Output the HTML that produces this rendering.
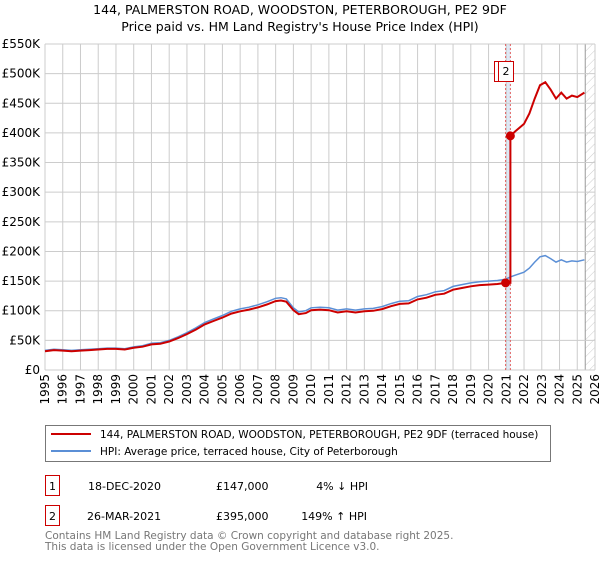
<!DOCTYPE html>
<html><head><meta charset="utf-8"><style>
body{margin:0;background:#fff;font-family:"Liberation Sans","DejaVu Sans",sans-serif;}
svg text{font-family:"DejaVu Sans","Liberation Sans",sans-serif;}
</style></head><body>
<svg id="chart" width="600" height="560" xmlns="http://www.w3.org/2000/svg">
<defs><pattern id="hatch" width="6" height="6" patternUnits="userSpaceOnUse" patternTransform="rotate(45)"><line x1="0" y1="0" x2="0" y2="6" stroke="#ccc" stroke-width="1"/></pattern></defs>
<text x="300" y="14" text-anchor="middle" font-size="12.5">144, PALMERSTON ROAD, WOODSTON, PETERBOROUGH, PE2 9DF</text>
<text x="300" y="31" text-anchor="middle" font-size="12.5">Price paid vs. HM Land Registry's House Price Index (HPI)</text>
<g id="grid"></g><g id="marks"></g>
<rect x="45.5" y="425.5" width="505" height="36" fill="#fff" stroke="#777"/>
<line x1="51" y1="434" x2="91" y2="434" stroke="#cc0000" stroke-width="2"/>
<text x="100" y="438" font-size="10.5">144, PALMERSTON ROAD, WOODSTON, PETERBOROUGH, PE2 9DF (terraced house)</text>
<line x1="51" y1="451" x2="91" y2="451" stroke="#5b8fd6" stroke-width="2"/>
<text x="100" y="455" font-size="10.5">HPI: Average price, terraced house, City of Peterborough</text>
<rect x="45.5" y="475.5" width="14" height="20" fill="#fff" stroke="#cc0000"/>
<text x="52.5" y="490" text-anchor="middle" font-size="11">1</text>
<text x="88" y="490" font-size="11">18-DEC-2020</text>
<text x="216" y="490" font-size="11">£147,000</text>
<text x="368" y="490" text-anchor="end" font-size="11">4% ↓ HPI</text>
<rect x="45.5" y="505.5" width="14" height="20" fill="#fff" stroke="#cc0000"/>
<text x="52.5" y="520" text-anchor="middle" font-size="11">2</text>
<text x="87" y="520" font-size="11">26-MAR-2021</text>
<text x="216" y="520" font-size="11">£395,000</text>
<text x="367" y="520" text-anchor="end" font-size="11">149% ↑ HPI</text>
<text x="45" y="539" font-size="10.5" fill="#777">Contains HM Land Registry data © Crown copyright and database right 2025.</text>
<text x="45" y="550" font-size="10.5" fill="#777">This data is licensed under the Open Government Licence v3.0.</text>
</svg>
<script>
const yTicks=[0,50,100,150,200,250,300,350,400,450,500,550];
const yTickLabels=["£0","£50K","£100K","£150K","£200K","£250K","£300K","£350K","£400K","£450K","£500K","£550K"];
const years=[1995,1996,1997,1998,1999,2000,2001,2002,2003,2004,2005,2006,2007,2008,2009,2010,2011,2012,2013,2014,2015,2016,2017,2018,2019,2020,2021,2022,2023,2024,2025,2026];
const hpiDates=[1995,1995.5,1996,1996.5,1997,1997.5,1998,1998.5,1999,1999.5,2000,2000.5,2001,2001.5,2002,2002.5,2003,2003.5,2004,2004.5,2005,2005.5,2006,2006.5,2007,2007.5,2008,2008.3,2008.6,2009,2009.3,2009.7,2010,2010.5,2011,2011.5,2012,2012.5,2013,2013.5,2014,2014.5,2015,2015.5,2016,2016.5,2017,2017.5,2018,2018.5,2019,2019.5,2020,2020.5,2020.96,2021.23,2021.5,2022,2022.3,2022.6,2022.9,2023.2,2023.5,2023.8,2024.1,2024.4,2024.7,2025,2025.4];
const hpiValues=[33,35,34,33,34,35,36,37,37,36,39,41,45,46,50,56,63,71,80,86,92,99,103,106,110,115,121,122,120,105,98,100,105,106,105,101,103,101,103,104,107,112,116,117,124,127,132,134,141,144,147,149,150,151,153,157,160,165,172,182,191,193,188,182,186,182,184,183,186];
const sales=[{d:2020.96,v:147},{d:2021.23,v:395}];
const X0=45,X1=595,Y0=370,Y1=44;
const xs=d=>X0+(d-1995)*(X1-X0)/31;
const ys=v=>Y0-v*(Y0-Y1)/550;
const NS="http://www.w3.org/2000/svg";
const grid=document.getElementById('grid'),marks=document.getElementById('marks');
function mk(p,tag,at){const e=document.createElementNS(NS,tag);for(const k in at)e.setAttribute(k,at[k]);p.appendChild(e);return e;}
let r=mk(grid,'rect',{x:X0,y:Y1,width:X1-X0,height:Y0-Y1,fill:'#fff'});


let h=mk(grid,'rect',{x:xs(2025.45),y:Y1,width:X1-xs(2025.45),height:Y0-Y1,fill:'url(#hatch)'});


mk(grid,'line',{x1:xs(2025.45),x2:xs(2025.45),y1:Y1,y2:Y0,stroke:'#999','stroke-width':1});
let band=mk(grid,'rect',{x:xs(sales[0].d),y:Y1,width:xs(sales[1].d)-xs(sales[0].d),height:Y0-Y1,fill:'#dde8f5'});


yTicks.forEach((v,i)=>{
 mk(grid,'line',{x1:X0,x2:X1,y1:ys(v),y2:ys(v),stroke:'#ccc','stroke-width':1});
 const t=mk(grid,'text',{x:X0-5,y:ys(v)+4,'text-anchor':'end','font-size':12});
 t.textContent=yTickLabels[i];
 
 
});
years.forEach(y=>{
 mk(grid,'line',{x1:xs(y),x2:xs(y),y1:Y1,y2:Y0,stroke:'#ccc','stroke-width':1});
 const t=mk(grid,'text',{x:0,y:0,'text-anchor':'end','font-size':12,transform:`translate(${xs(y)+4},${Y0+4}) rotate(-90)`});
 t.textContent=y;
 
 
});
sales.forEach(s=>{mk(grid,'line',{x1:xs(s.d),x2:xs(s.d),y1:Y1,y2:Y0,stroke:'#e06060','stroke-width':1,'stroke-dasharray':'2,2'});});
const hp=hpiDates.map((d,i)=>`${xs(d).toFixed(1)},${ys(hpiValues[i]).toFixed(1)}`).join(' ');
const hl=mk(marks,'polyline',{points:hp,fill:'none',stroke:'#5b8fd6','stroke-width':1.5});


function hpiAt(d){for(let i=1;i<hpiDates.length;i++){if(d<=hpiDates[i]){const t=(d-hpiDates[i-1])/(hpiDates[i]-hpiDates[i-1]);return hpiValues[i-1]+t*(hpiValues[i]-hpiValues[i-1]);}}return hpiValues[hpiValues.length-1];}
const f0=sales[0].v/hpiAt(sales[0].d),f1=sales[1].v/hpiAt(sales[1].d);
const pts=[];
hpiDates.forEach((d,i)=>{
 if(d<sales[0].d)pts.push([d,hpiValues[i]*f0]);
 else if(d<sales[1].d){}
 else pts.push([d,hpiValues[i]*f1]);
});
const idx=pts.findIndex(p=>p[0]>=sales[1].d);
pts.splice(idx,0,[sales[0].d,sales[0].v],[sales[1].d,sales[0].v],[sales[1].d,sales[1].v]);
const pl=mk(marks,'polyline',{points:pts.map(p=>`${xs(p[0]).toFixed(1)},${ys(p[1]).toFixed(1)}`).join(' '),fill:'none',stroke:'#cc0000','stroke-width':2});


sales.forEach((s,i)=>{
 const c=mk(marks,'circle',{cx:xs(s.d),cy:ys(s.v),r:4.5,fill:'#cc0000'});
 
 
});
[[494,'1'],[498,'2']].forEach(([x,l])=>{
 const g=mk(marks,'g',{});
 
 
 mk(g,'rect',{x:x+0.5,y:61.5,width:15,height:20,fill:'#fff',stroke:'#cc0000'});
 const t=mk(g,'text',{x:x+8,y:75,'text-anchor':'middle','font-size':11});t.textContent=l;
});
</script>
</body></html>
